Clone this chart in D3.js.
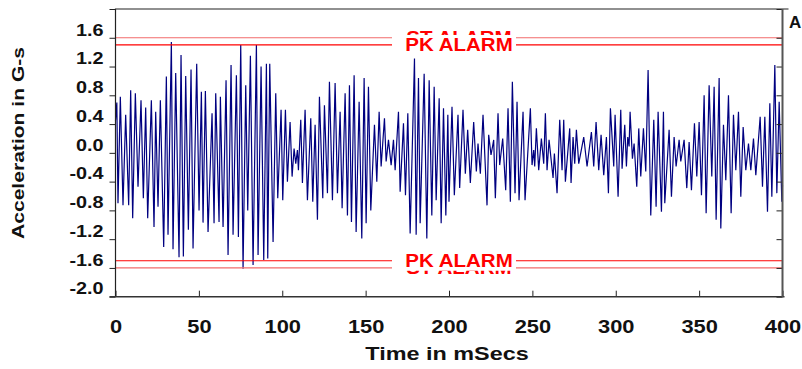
<!DOCTYPE html>
<html>
<head>
<meta charset="utf-8">
<script src="https://cdnjs.cloudflare.com/ajax/libs/d3/7.8.5/d3.min.js"></script>
<style>
body { margin: 0; background: #fff; }
svg text { font-family: Arial, "Liberation Sans", sans-serif; font-weight: bold; }
</style>
</head>
<body>
<div id="chart"></div>
<script>
// peaks and troughs of the trace
var timeMs = [
    0, 0.8, 1.5, 2.9, 4.5, 6.1, 7.9, 9.1, 10.3, 11.9, 13.5, 15.3, 16.7, 18.1, 19.3, 21.5, 23.1, 24.1, 25.5, 26.9,
    28.9, 30.5, 31.5, 33.5, 34.5, 36.1, 38.1, 39.3, 40.7, 42.1, 43.7, 45.3, 46.5, 48.7, 50.1, 51.5, 52.5, 53.9, 55.5, 57.9,
    59.1, 60.1, 62.1, 62.9, 64.5, 66.3, 67.5, 69.3, 70.5, 72.5, 73.7, 75.1, 76.5, 78.1, 79.3, 80.9, 82.5, 84.5, 85.5, 87.3,
    88.9, 90.5, 91.3, 92.5, 94.5, 96.1, 97.3, 99.3,
    100.3, 101.9, 103.1, 104.7, 105.9, 107.1, 108.1, 109.1, 109.7, 111.1, 112.1, 113.7, 115.1, 117.1, 118.3, 119.7, 121.1, 122.3, 124.3, 125.3,
    127.1, 128.3, 130.1, 131.7, 133.1, 134.7, 135.9, 137.7, 139.1, 140.3, 141.5, 143.1, 144.3, 146.1, 147.7, 149.1, 150.3, 151.7, 153.1, 155.3,
    156.7, 158.1, 159.3, 161.3, 162.3, 163.7, 165.3, 166.7, 167.7, 169.7, 170.7, 172.7, 173.9, 175.3, 176.7, 179.3, 180.3, 181.7, 182.7, 185.1,
    186.7, 188.1, 189.7, 191.1, 192.3, 194.1, 195.3, 196.7, 198.1, 199.3,
    200.0, 201.8, 203.2, 205.4, 206.4, 208.4, 209.8, 211.2, 212.8, 214.8, 216.4, 217.4, 218.8, 220.4, 222.8, 223.8, 225.2, 226.8, 227.8, 229.4,
    230.4, 232.2, 234.0, 235.4, 236.8, 238.0, 239.6, 240.8, 242.0, 244.4, 245.6, 248.8, 249.8, 250.8, 251.4, 252.4, 253.8, 255.4, 256.8, 257.8,
    258.8, 260.0, 262.4, 263.2, 264.8, 266.4, 267.8, 268.8, 269.8, 272.4, 273.2, 274.4, 275.4, 276.4, 277.8, 280.8, 282.8, 285.4, 286.8, 288.2,
    289.8, 291.2, 292.8, 294.4, 295.6, 296.8, 298.8,
    299.6, 301.4, 303.0, 303.8, 305.4, 306.4, 307.2, 308.0, 308.6, 310.0, 311.0, 312.6, 313.8, 315.0, 316.6, 318.0, 319.4, 321.0, 322.8, 324.2,
    325.4, 327.4, 328.6, 329.4, 332.0, 333.4, 335.0, 336.2, 338.0, 339.0, 341.0, 342.6, 344.0, 345.4, 347.2, 348.6, 350.0, 351.4, 353.0, 354.2,
    356.0, 357.6, 359.0, 360.2, 362.0, 363.0, 364.6, 366.0, 367.6, 369.2, 370.6, 372.0, 373.6, 375.0, 376.4, 378.0, 379.6, 381.0, 382.6, 384.0,
    386.6, 388.0, 389.4, 391.0, 392.4, 393.6, 395.4, 396.6, 398.0, 399.6, 400
];
var accelG = [
    0.45, 0.70, -0.70, 0.78, -0.73, 0.53, -0.73, 0.87, -0.91, 0.83, -0.47, 0.73, -0.63, 0.63, -0.91, 0.73, -1.03, 0.57, -0.75, 0.73,
    -1.31, 1.06, -1.14, 1.54, -1.34, 1.11, -1.45, 1.36, -1.44, 1.07, -1.07, 1.16, -1.33, 1.24, -0.80, 0.85, -0.97, 0.86, -1.10, 0.55,
    -0.98, 0.83, -0.96, 0.78, -1.03, 1.01, -1.42, 1.22, -1.14, 1.08, -1.17, 1.50, -1.61, 0.94, -0.80, 1.35, -1.56, 1.50, -1.42, 1.20,
    -1.49, 1.24, -1.47, 1.24, -1.24, 0.83, -0.63, 0.60,
    -0.66, 0.60, -0.40, 0.43, -0.33, 0.06, -0.15, 0.04, -0.24, 0.46, -0.42, 0.60, -0.66, 0.48, -0.68, 0.39, -0.93, 0.78, -0.63, 0.66,
    -0.56, 0.99, -0.66, 0.97, -0.56, 0.57, -0.77, 0.83, -0.87, 0.94, -0.96, 1.08, -1.10, 0.71, -1.19, 1.04, -0.98, 0.92, -0.80, 0.39,
    -0.40, 0.57, -0.19, 0.48, -0.12, 0.18, -0.17, 0.18, -0.24, 0.57, -0.54, 0.41, -0.59, 0.55, -1.12, 1.31, -1.14, 1.04, -0.98, 1.10,
    -1.19, 1.01, -0.87, 0.92, -0.66, 0.76, -0.98, 0.62, -0.87, 0.53,
    -0.68, 0.64, -0.59, 0.53, -0.49, 0.60, -0.29, 0.32, -0.42, 0.43, -0.26, 0.13, -0.29, 0.53, -0.73, 0.25, -0.03, 0.18, -0.63, 0.55,
    -0.17, 0.20, -0.52, 0.62, -0.68, 0.99, -0.56, 0.71, -0.66, 0.57, -0.66, 0.62, -0.17, 0.04, -0.19, 0.34, -0.24, 0.20, -0.15, 0.55,
    -0.24, 0.18, -0.35, -0.01, -0.56, 0.46, -0.24, 0.46, -0.40, 0.34, -0.42, 0.22, -0.15, 0.32, -0.15, 0.22, -0.19, 0.29, -0.19, 0.43,
    -0.24, 0.25, -0.31, 0.22, -0.56, 0.62, -0.19,
    0.53, -0.61, 0.60, -0.22, 0.39, -0.19, 0.22, 0.09, 0.57, -0.08, 0.13, -0.47, 0.34, -0.33, 0.34, -0.26, 1.15, -0.87, 0.46, -0.75,
    0.57, -0.82, 0.57, -0.70, 0.32, -0.61, 0.22, -0.19, 0.18, -0.12, 0.18, -0.49, 0.15, -0.52, 0.41, -0.33, 0.43, -0.59, 0.80, -0.84,
    0.94, -0.33, 0.92, -0.93, 1.04, -1.05, 0.39, -0.38, 0.80, -0.84, 0.53, -0.24, 0.57, -0.61, 0.36, -0.24, 0.13, -0.24, 0.20, -0.31,
    0.50, -0.47, 0.50, -0.82, 0.69, -0.61, 1.22, -0.56, 0.71, -0.68, -0.45
];

var yTicks = [-2.0, -1.6, -1.2, -0.8, -0.4, 0.0, 0.4, 0.8, 1.2, 1.6, 2.0];
var xTicks = [0, 50, 100, 150, 200, 250, 300, 350, 400];

// the second alarm is drawn first, PK ALARM sits on top of it
var alarmNames = ["ST ALARM", "PK ALARM"];
var alarmLevels = [1.6, 1.5];
var alarmColors = ["#f26b6b", "#ff0000"];

var width = 802, height = 369;
var margin = {top: 9, right: 19.5, bottom: 72.3, left: 115.5};

var svg = d3.select("#chart")
    .append("svg")
    .attr("width", width)
    .attr("height", height);

var xScale = d3.scaleLinear()
    .domain([0, 400])
    .range([margin.left, width - margin.right]);

var yScale = d3.scaleLinear()
    .domain([-2, 2])
    .range([height - margin.bottom, margin.top]);

// stretch a text horizontally, the source font is wider than Arial
function stretch(sel, k) {
    sel.each(function() {
        var w = this.getComputedTextLength();
        if (w > 0) {
            d3.select(this)
                .attr("textLength", w * k)
                .attr("lengthAdjust", "spacingAndGlyphs");
        }
    });
}

// trace
var pts = d3.range(Math.min(timeMs.length, accelG.length)).map(function(i) {
    return [timeMs[i], accelG[i]];
});

var line = d3.line()
    .x(function(d) { return xScale(d[0]); })
    .y(function(d) { return yScale(d[1]); });

svg.append("path")
    .datum(pts)
    .attr("d", line)
    .attr("fill", "none")
    .attr("stroke", "#000080")
    .attr("stroke-width", 1.2)
    .attr("stroke-linejoin", "miter");

// alarm lines, both signs
alarmLevels.forEach(function(lev, i) {
    [lev, -lev].forEach(function(v) {
        svg.append("line")
            .attr("x1", xScale(0))
            .attr("x2", xScale(400))
            .attr("y1", yScale(v))
            .attr("y2", yScale(v))
            .attr("stroke", alarmColors[i])
            .attr("stroke-width", 1.2);

        var cx = 459;
        svg.append("rect")
            .attr("x", cx - 67)
            .attr("y", yScale(v) - 10)
            .attr("width", 124)
            .attr("height", 20)
            .attr("fill", "#fff");

        svg.append("text")
            .attr("x", cx)
            .attr("y", yScale(v))
            .attr("dy", "0.36em")
            .attr("text-anchor", "middle")
            .attr("fill", "#ff0000")
            .style("font-size", "18px")
            .text(alarmNames[i])
            .call(stretch, 1.14);
    });
});

// left axis, ticks outward
var yAxis = svg.append("g")
    .attr("transform", "translate(" + margin.left + ",0)")
    .call(d3.axisLeft(yScale)
        .tickValues(yTicks)
        .tickSize(6)
        .tickFormat(function(d) { return d === 2 ? "" : d.toFixed(1); }));
yAxis.select(".domain").remove();
yAxis.selectAll("line").attr("stroke", "#222");
yAxis.selectAll("text")
    .attr("x", -12)
    .attr("y", -8)
    .attr("fill", "#111")
    .style("font-size", "16.5px")
    .call(stretch, 1.2);

// right axis, ticks inward
var yAxisR = svg.append("g")
    .attr("transform", "translate(" + (width - margin.right) + ",0)")
    .call(d3.axisRight(yScale).tickValues(yTicks).tickSize(-6).tickFormat(""));
yAxisR.select(".domain").remove();
yAxisR.selectAll("line").attr("stroke", "#222");

// bottom axis, ticks inward
var xAxis = svg.append("g")
    .attr("transform", "translate(0," + (height - margin.bottom) + ")")
    .call(d3.axisBottom(xScale).tickValues(xTicks).tickSize(-6));
xAxis.select(".domain").remove();
xAxis.selectAll("line").attr("stroke", "#222");
xAxis.selectAll("text")
    .attr("y", 29.5)
    .attr("dy", "0.35em")
    .attr("fill", "#111")
    .style("font-size", "19px")
    .call(stretch, 1.15);

// frame
svg.append("path")
    .attr("d", "M" + margin.left + "," + yScale(-2) + "V" + margin.top + "H" + (xScale(400) + 6))
    .attr("fill", "none")
    .attr("stroke", "#222")
    .attr("stroke-width", 1.2);
svg.append("line")
    .attr("x1", margin.left - 6).attr("x2", xScale(400) + 2)
    .attr("y1", yScale(-2)).attr("y2", yScale(-2))
    .attr("stroke", "#333")
    .attr("stroke-width", 1.4);
svg.append("line")
    .attr("x1", xScale(400)).attr("x2", xScale(400))
    .attr("y1", margin.top).attr("y2", yScale(-2))
    .attr("stroke", "#555")
    .attr("stroke-width", 2);

// titles
svg.append("text")
    .attr("x", 447)
    .attr("y", 354)
    .attr("dy", "0.35em")
    .attr("text-anchor", "middle")
    .attr("fill", "#111")
    .style("font-size", "18px")
    .text("Time in mSecs")
    .call(stretch, 1.3);

svg.append("text")
    .attr("transform", "translate(18,143) rotate(-90)")
    .attr("dy", "0.35em")
    .attr("text-anchor", "middle")
    .attr("fill", "#111")
    .style("font-size", "17px")
    .text("Acceleration in G-s")
    .call(stretch, 1.24);

svg.append("text")
    .attr("x", 789)
    .attr("y", 28)
    .attr("fill", "#111")
    .style("font-size", "17px")
    .text("A");
</script>
</body>
</html>
